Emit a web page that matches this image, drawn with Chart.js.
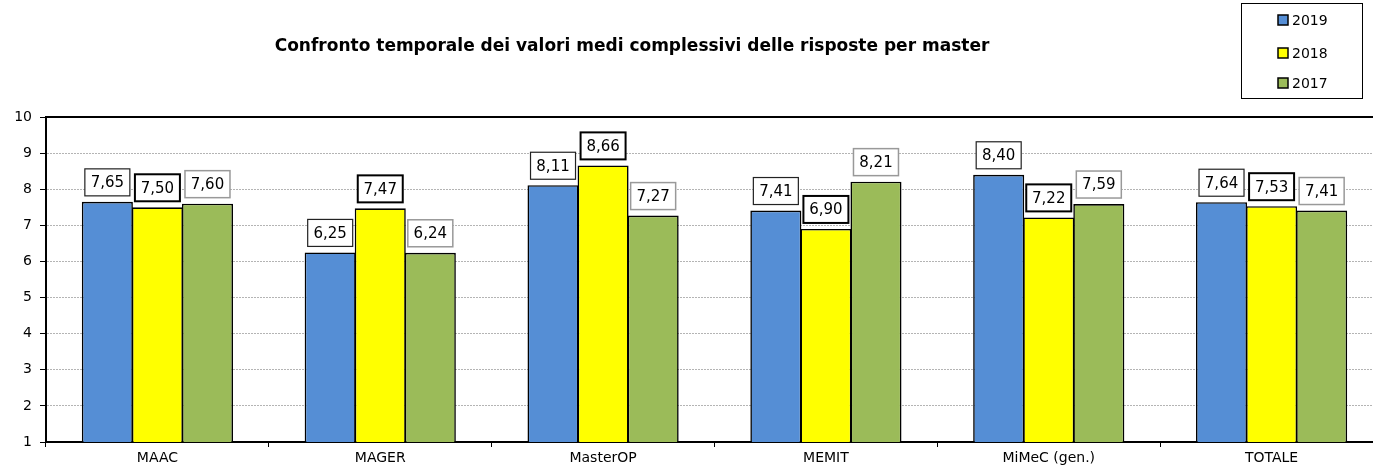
<!DOCTYPE html>
<html>
<head>
<meta charset="utf-8">
<script src="https://cdn.jsdelivr.net/npm/chart.js@4"></script>
<style>
  html, body { margin: 0; padding: 0; background: #fff; overflow: hidden; }
  #wrap { width: 1383px; height: 473px; }
</style>
</head>
<body>
<div id="wrap"><canvas id="chart"></canvas></div>
<script>
// data
const masters = ['MAAC', 'MAGER', 'MasterOP', 'MEMIT', 'MiMeC (gen.)', 'TOTALE'];
const years = ['2019', '2018', '2017'];
const values2019 = [7.65, 6.25, 8.11, 7.41, 8.40, 7.64];
const values2018 = [7.50, 7.47, 8.66, 6.90, 7.22, 7.53];
const values2017 = [7.60, 6.24, 7.27, 8.21, 7.59, 7.41];
const yTicks = [1, 2, 3, 4, 5, 6, 7, 8, 9, 10];

const fillColors = ['#558ed5', '#ffff00', '#9bbb59'];
const labelBorders = [{ color: '#222', width: 1.2 }, { color: '#000', width: 2 }, { color: '#999', width: 1.5 }];
const titleText = 'Confronto temporale dei valori medi complessivi delle risposte per master';
const textFont = "'Comic Sans MS', 'DejaVu Sans', sans-serif";

// title, legend box, top frame line and value boxes
const decorations = {
    id: 'decorations',
    afterDatasetsDraw(chart) {
        const ctx = chart.ctx;
        const area = chart.chartArea;

        // top border of plot area
        ctx.save();
        ctx.strokeStyle = '#000';
        ctx.lineWidth = 2;
        ctx.beginPath();
        ctx.moveTo(area.left, area.top);
        ctx.lineTo(area.right, area.top);
        ctx.stroke();
        ctx.restore();

        // value boxes
        ctx.save();
        ctx.font = '15px "DejaVu Sans"';
        ctx.textAlign = 'center';
        ctx.textBaseline = 'middle';
        chart.data.datasets.forEach((ds, i) => {
            const meta = chart.getDatasetMeta(i);
            meta.data.forEach((bar, j) => {
                const txt = ds.data[j].toFixed(2).replace('.', ',');
                const w = 45, h = 27;
                const x = bar.x - w / 2;
                const y = bar.y - 6 - h;
                ctx.fillStyle = '#fff';
                ctx.fillRect(x, y, w, h);
                ctx.strokeStyle = labelBorders[i].color;
                ctx.lineWidth = labelBorders[i].width;
                ctx.strokeRect(x, y, w, h);
                ctx.fillStyle = '#000';
                ctx.fillText(txt, bar.x, y + h / 2 + 1);
            });
        });
        ctx.restore();
    },
    afterDraw(chart) {
        const ctx = chart.ctx;
        ctx.save();
        // title
        ctx.fillStyle = '#000';
        ctx.font = 'bold 17px "DejaVu Sans"';
        ctx.textAlign = 'center';
        ctx.textBaseline = 'middle';
        ctx.fillText(titleText, 632, 47);

        // legend
        ctx.strokeStyle = '#000';
        ctx.lineWidth = 1;
        ctx.strokeRect(1241.5, 3.5, 121, 95);
        const rows = [20, 53, 83];
        ctx.font = '14px "DejaVu Sans"';
        ctx.textAlign = 'left';
        chart.data.datasets.forEach((ds, i) => {
            ctx.fillStyle = ds.backgroundColor;
            ctx.fillRect(1278, rows[i] - 5, 10, 10);
            ctx.strokeStyle = '#000';
            ctx.lineWidth = 1.5;
            ctx.strokeRect(1278, rows[i] - 5, 10, 10);
            ctx.fillStyle = '#000';
            ctx.fillText(ds.label, 1292, rows[i] + 1);
        });
        ctx.restore();
    }
};

const seriesValues = [values2019, values2018, values2017];

new Chart(document.getElementById('chart').getContext('2d'), {
    type: 'bar',
    data: {
        labels: masters,
        datasets: years.map((yr, i) => ({
            label: yr,
            data: seriesValues[i],
            backgroundColor: fillColors[i],
            borderColor: '#000',
            borderWidth: 1.6,
            borderSkipped: false,
            barPercentage: 1.02,
            categoryPercentage: 0.674
        }))
    },
    options: {
        responsive: true,
        maintainAspectRatio: false,
        animation: false,
        layout: { padding: { top: 117, right: 0, left: 0, bottom: 0 } },
        plugins: {
            legend: { display: false },
            title: { display: false },
            tooltip: { enabled: false }
        },
        scales: {
            x: {
                grid: {
                    offset: true,
                    drawOnChartArea: false,
                    drawTicks: true,
                    tickLength: 5,
                    tickColor: '#000',
                    tickWidth: 1
                },
                border: { display: true, color: '#000', width: 2 },
                ticks: {
                    color: '#000',
                    font: { family: textFont, size: 14 },
                    padding: 3
                },
                afterFit(scale) { scale.height = 31; }
            },
            y: {
                min: 1,
                max: 10,
                afterBuildTicks(scale) { scale.ticks = yTicks.map(v => ({ value: v })); },
                grid: {
                    color: '#b4b4b4',
                    lineWidth: 1,
                    tickLength: 6,
                    tickColor: '#000',
                    tickWidth: 1
                },
                border: { display: true, color: '#000', width: 2, dash: [2, 1] },
                ticks: {
                    color: '#000',
                    font: { family: "'DejaVu Sans', sans-serif", size: 14 },
                    padding: 8
                },
                afterFit(scale) { scale.width = 46; }
            }
        }
    },
    plugins: [decorations]
});
</script>
</body>
</html>
